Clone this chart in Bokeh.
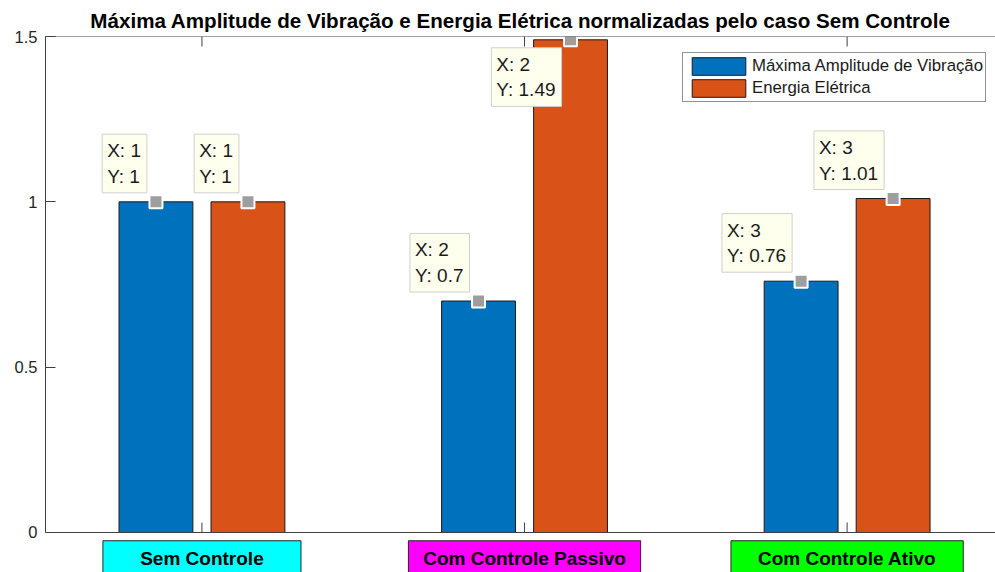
from bokeh.plotting import figure
from bokeh.models import Range1d, LinearAxis, FixedTicker, Span
from bokeh.core.properties import value
from bokeh.embed import file_html
from bokeh.resources import INLINE

# ---- data -------------------------------------------------------------
cases = ["Sem Controle", "Com Controle Passivo", "Com Controle Ativo"]
case_x = [1, 2, 3]
amplitude = [1.0, 0.70, 0.76]      # Máxima Amplitude de Vibração (normalizada)
energy = [1.0, 1.49, 1.01]         # Energia Elétrica (normalizada)
series_names = ["Máxima Amplitude de Vibração", "Energia Elétrica"]
y_ticks = [0, 0.5, 1, 1.5]
y_tick_labels = ["0", "0.5", "1", "1.5"]
case_colors = ["#00ffff", "#ff00ff", "#00ff00"]

# ---- styling ----------------------------------------------------------
BLUE = "#0072bd"
ORANGE = "#d95319"
AXIS = "#404040"
FONT = "Liberation Sans"
BAR_W = 0.229
BAR_OFF = 0.1426

p = figure(
    width=995, height=572,
    x_range=Range1d(0.515, 3.46), y_range=Range1d(-0.121, 1.5),
    x_axis_type=None, y_axis_type=None,
    toolbar_location=None, output_backend="svg",
    min_border_left=45, min_border_right=0,
    min_border_top=36, min_border_bottom=0,
    outline_line_color=None,
)

p.title.text = "Máxima Amplitude de Vibração e Energia Elétrica normalizadas pelo caso Sem Controle"
p.title.text_font = FONT
p.title.text_font_size = "20.6px"
p.title.text_font_style = "bold"
p.title.align = "center"
p.title.offset = 4
p.title.text_color = "black"

# y axis
yaxis = LinearAxis(
    ticker=FixedTicker(ticks=y_ticks),
    major_label_overrides={t: s for t, s in zip(y_ticks, y_tick_labels)},
    bounds=(0, 1.5),
    major_tick_in=10, major_tick_out=0,
    minor_tick_line_color=None,
    axis_line_color=AXIS, major_tick_line_color=AXIS,
    major_label_standoff=8,
    major_label_text_font=FONT,
    major_label_text_font_size="16.5px",
    major_label_text_color="#262626",
)
p.add_layout(yaxis, "left")

# box lines (bottom and top)
p.add_layout(Span(location=0, dimension="width", line_color=AXIS, line_width=1))
p.add_layout(Span(location=1.5, dimension="width", line_color=AXIS, line_width=1))

# inward x ticks, bottom and top
tick_len = 0.0302
p.segment(x0=case_x, x1=case_x, y0=[0] * 3, y1=[tick_len] * 3, line_color=AXIS, line_width=1)
p.segment(x0=case_x, x1=case_x, y0=[1.5] * 3, y1=[1.5 - tick_len] * 3, line_color=AXIS, line_width=1)

# grouped bars
x_amp = [x - BAR_OFF for x in case_x]
x_en = [x + BAR_OFF for x in case_x]
p.vbar(x=x_amp, top=amplitude, width=BAR_W, fill_color=BLUE,
       line_color="#1a1a1a", line_width=1, legend_label=series_names[0])
p.vbar(x=x_en, top=energy, width=BAR_W, fill_color=ORANGE,
       line_color="#1a1a1a", line_width=1, legend_label=series_names[1])

# data tips
tip_x = x_amp + x_en
tip_y = amplitude + energy
tip_case = case_x + case_x
tip_text = [f"X: {c}\nY: {v:g}" for c, v in zip(tip_case, tip_y)]

p.scatter(tip_x, tip_y, marker="square", size=13, fill_color="#9e9e9e",
          line_color="white", line_width=2)

up = [i for i, v in enumerate(tip_y) if v <= 1.3]
down = [i for i, v in enumerate(tip_y) if v > 1.3]

tip_style = dict(
    text_font=value(FONT), text_font_size="19px", text_color="#1a1a1a",
    text_line_height=1.22,
    background_fill_color="#ffffee", border_line_color="#cfcfcf",
    border_line_width=1,
    padding=dict(left=5, right=6, top=6, bottom=6),
)
p.text(x=[tip_x[i] for i in up], y=[tip_y[i] for i in up],
       text=[tip_text[i] for i in up], anchor="bottom_right",
       x_offset=-9, y_offset=-9, **tip_style)
p.text(x=[tip_x[i] for i in down], y=[tip_y[i] for i in down],
       text=[tip_text[i] for i in down], anchor="top_right",
       x_offset=-9, y_offset=8, **tip_style)

# category boxes under the axis
box_half = [0.307, 0.36, 0.36]
p.quad(left=[x - h for x, h in zip(case_x, box_half)],
       right=[x + h for x, h in zip(case_x, box_half)],
       top=[-0.025] * 3, bottom=[-0.3] * 3,
       fill_color=case_colors, line_color="#262626", line_width=1)
p.text(x=case_x, y=[-0.08] * 3, text=cases,
       text_align="center", text_baseline="middle",
       text_font=value(FONT), text_font_size="19px",
       text_font_style="bold", text_color="black")

# legend
lg = p.legend[0]
lg.location = (637, 470)
lg.padding = 2
lg.margin = 0
lg.spacing = 0
lg.glyph_width = 67
lg.glyph_height = 22
lg.label_height = 22
lg.label_standoff = 0
lg.label_text_font = FONT
lg.label_text_font_size = "16.8px"
lg.label_text_color = "#1a1a1a"
lg.border_line_color = "#262626"
lg.border_line_width = 1
lg.background_fill_alpha = 1

open("out.html", "w").write(file_html(p, INLINE))
